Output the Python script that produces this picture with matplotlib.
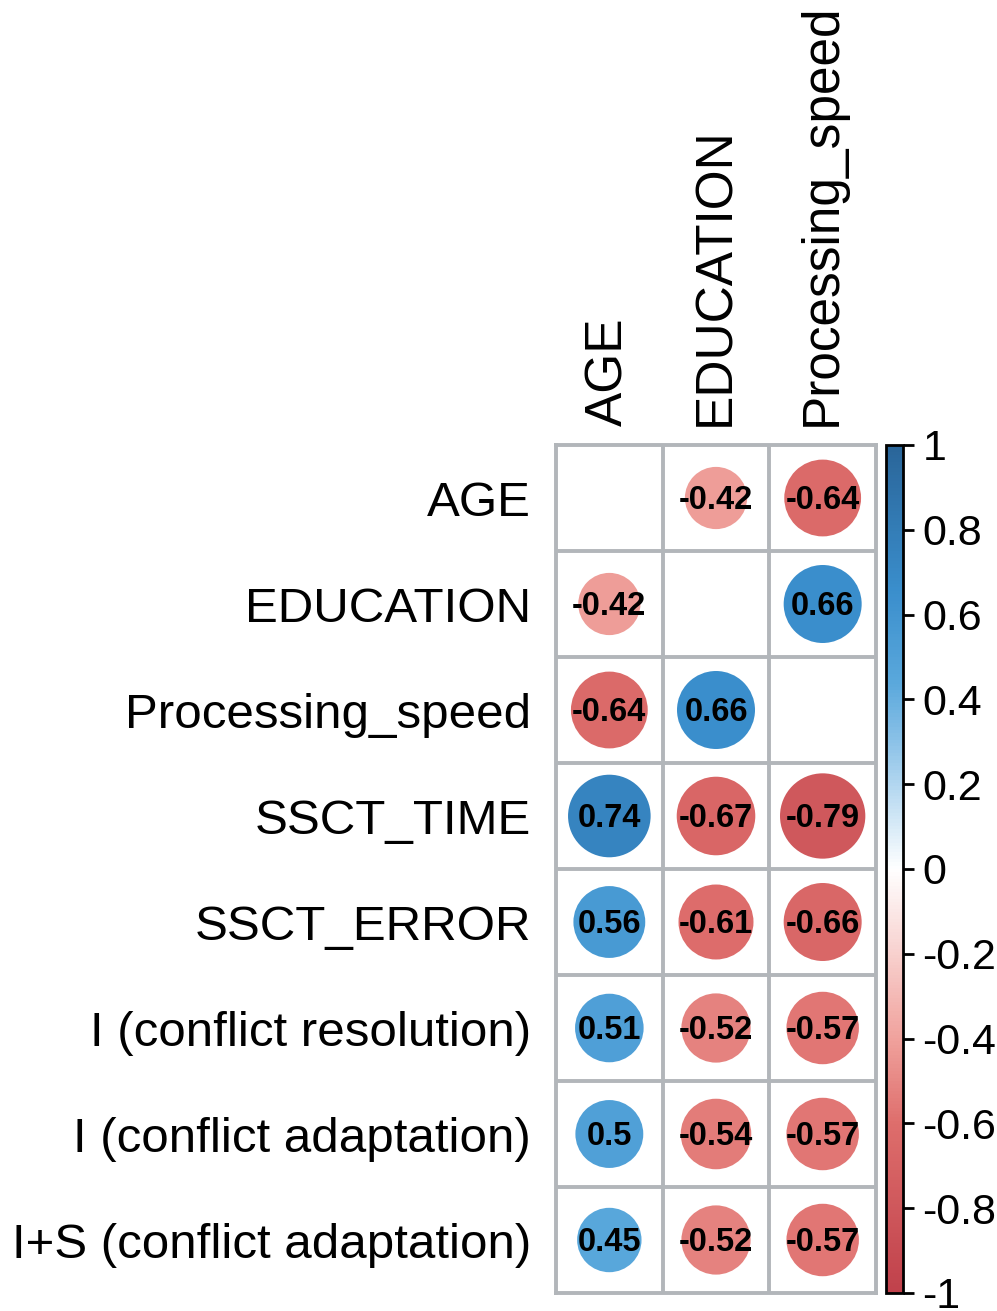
import numpy as np
import matplotlib
matplotlib.use("Agg")
import matplotlib.pyplot as plt
from matplotlib.colors import LinearSegmentedColormap, Normalize
from matplotlib.patches import Ellipse
from matplotlib.cm import ScalarMappable

plt.rcParams['font.family'] = ['Liberation Sans', 'DejaVu Sans']
plt.rcParams['axes.unicode_minus'] = False

# 数据
row_labels = ['AGE', 'EDUCATION', 'Processing_speed', 'SSCT_TIME', 'SSCT_ERROR',
              'I (conflict resolution)', 'I (conflict adaptation)', 'I+S (conflict adaptation)']
col_labels = ['AGE', 'EDUCATION', 'Processing_speed']
age_r = [np.nan, -0.42, -0.64, 0.74, 0.56, 0.51, 0.5, 0.45]
edu_r = [-0.42, np.nan, 0.66, -0.67, -0.61, -0.52, -0.54, -0.52]
speed_r = [-0.64, 0.66, np.nan, -0.79, -0.66, -0.57, -0.57, -0.57]
cbar_ticks = [1, 0.8, 0.6, 0.4, 0.2, 0, -0.2, -0.4, -0.6, -0.8, -1]

corr = np.column_stack([age_r, edu_r, speed_r])

# 颜色
cmap = LinearSegmentedColormap.from_list('corr', [
    (0.0, '#C0414B'), (0.2, '#DE6E6C'), (0.3, '#F0A29D'), (0.5, '#FFFFFF'),
    (0.65, '#8CC2E8'), (0.72, '#5AA8DC'), (0.83, '#3A8ECC'), (1.0, '#2A6599')])
norm = Normalize(-1, 1)

W, H = 997, 1311
fig = plt.figure(figsize=(W / 100, H / 100), dpi=100)
x0, x1, y0, y1 = 556, 876, 445, 1293
ax = fig.add_axes([x0 / W, 1 - y1 / H, (x1 - x0) / W, (y1 - y0) / H])
ax.set_xlim(0, 3)
ax.set_ylim(8, 0)

grid_col = '#B2B6BA'
for i in range(1, 3):
    ax.axvline(i, color=grid_col, lw=2.8, zorder=1)
for j in range(1, 8):
    ax.axhline(j, color=grid_col, lw=2.8, zorder=1)
for s in ax.spines.values():
    s.set_color(grid_col)
    s.set_linewidth(2.8)

# 宽高比例修正
sx = (x1 - x0) / 3
sy = (y1 - y0) / 8
for i in range(corr.shape[0]):
    for j in range(corr.shape[1]):
        v = corr[i, j]
        if np.isnan(v):
            continue
        r = 0.45 * np.sqrt(abs(v))
        c = Ellipse((j + 0.5, i + 0.5), 2 * r, 2 * r * sx / sy,
                    facecolor=cmap(norm(v)), edgecolor='none', zorder=2)
        ax.add_patch(c)
        txt = f"{v:g}"
        ax.text(j + 0.5, i + 0.52, txt, ha='center', va='center', fontsize=23.5,
                fontweight='bold', color='black', zorder=3)

ax.set_yticks(np.arange(8) + 0.5)
ax.set_yticklabels(row_labels, fontsize=35.5)
ax.tick_params(axis='y', length=0, pad=18)
ax.xaxis.tick_top()
ax.set_xticks(np.arange(3) + 0.5)
ax.set_xticklabels(col_labels, fontsize=37, rotation=90)
ax.tick_params(axis='x', length=0, pad=14)

# 颜色条
cax = fig.add_axes([886 / W, 1 - y1 / H, 17 / W, (y1 - y0) / H])
cb = fig.colorbar(ScalarMappable(norm=norm, cmap=cmap), cax=cax)
cb.set_ticks(cbar_ticks)
cb.set_ticklabels([f"{t:g}" for t in cbar_ticks])
cb.outline.set_linewidth(2)
cax.tick_params(labelsize=31, length=8, width=2, pad=6)

plt.savefig('out.png', dpi=100)
